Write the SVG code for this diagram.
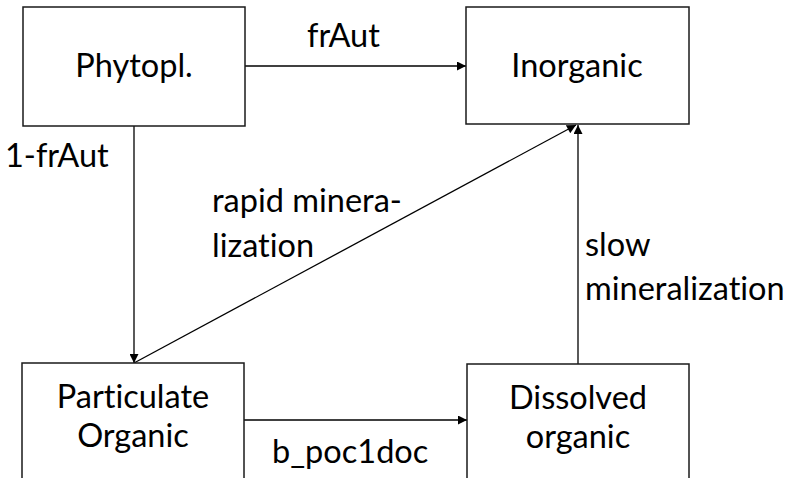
<svg xmlns="http://www.w3.org/2000/svg" width="802" height="478" viewBox="0 0 802 478">
<style>
.box{fill:#fff;stroke:#1a1a1a;stroke-width:1.5}
.t{font-family:Lato,"Open Sans",sans-serif;font-size:32.5px;fill:#000;font-variant-ligatures:none}
.c{text-anchor:middle}
.e{fill:none;stroke:#000;stroke-width:1.3}
</style>
<defs>
<marker id="ah" viewBox="0 0 10 10" refX="10" refY="5" markerWidth="10" markerHeight="9" markerUnits="userSpaceOnUse" orient="auto">
<path d="M0,0 L10,5 L0,10 Z" fill="#000"/>
</marker>
</defs>
<rect width="802" height="478" fill="#fff"/>
<g id="connectors">
<line class="e" x1="245" y1="66" x2="466" y2="66" marker-end="url(#ah)"/>
<line class="e" x1="134" y1="126" x2="134" y2="363" marker-end="url(#ah)"/>
<line class="e" x1="134" y1="363" x2="576" y2="125" marker-end="url(#ah)"/>
<line class="e" x1="578" y1="364" x2="578" y2="125" marker-end="url(#ah)"/>
<line class="e" x1="244" y1="420" x2="467" y2="420" marker-end="url(#ah)"/>
<text class="t" x="307" y="47">frAut</text>
<text class="t" x="5" y="167">1-frAut</text>
<text class="t" x="212" y="212">rapid minera-</text>
<text class="t" x="212" y="257">lization</text>
<text class="t" x="585" y="256">slow</text>
<text class="t" x="585" y="300">mineralization</text>
<text class="t" x="272" y="463">b_poc1doc</text>
</g>
<g id="phytopl">
<rect class="box" x="23" y="7" width="222" height="119"/>
<text class="t c" x="134" y="77">Phytopl.</text>
</g>
<g id="inorganic">
<rect class="box" x="466" y="7" width="223" height="117"/>
<text class="t c" x="577" y="77">Inorganic</text>
</g>
<g id="particulate">
<rect class="box" x="22" y="363" width="222" height="130"/>
<text class="t c" x="133" y="408">Particulate</text>
<text class="t c" x="133" y="447">Organic</text>
</g>
<g id="dissolved">
<rect class="box" x="467" y="364" width="222" height="130"/>
<text class="t c" x="578" y="409">Dissolved</text>
<text class="t c" x="578" y="448">organic</text>
</g>
</svg>
